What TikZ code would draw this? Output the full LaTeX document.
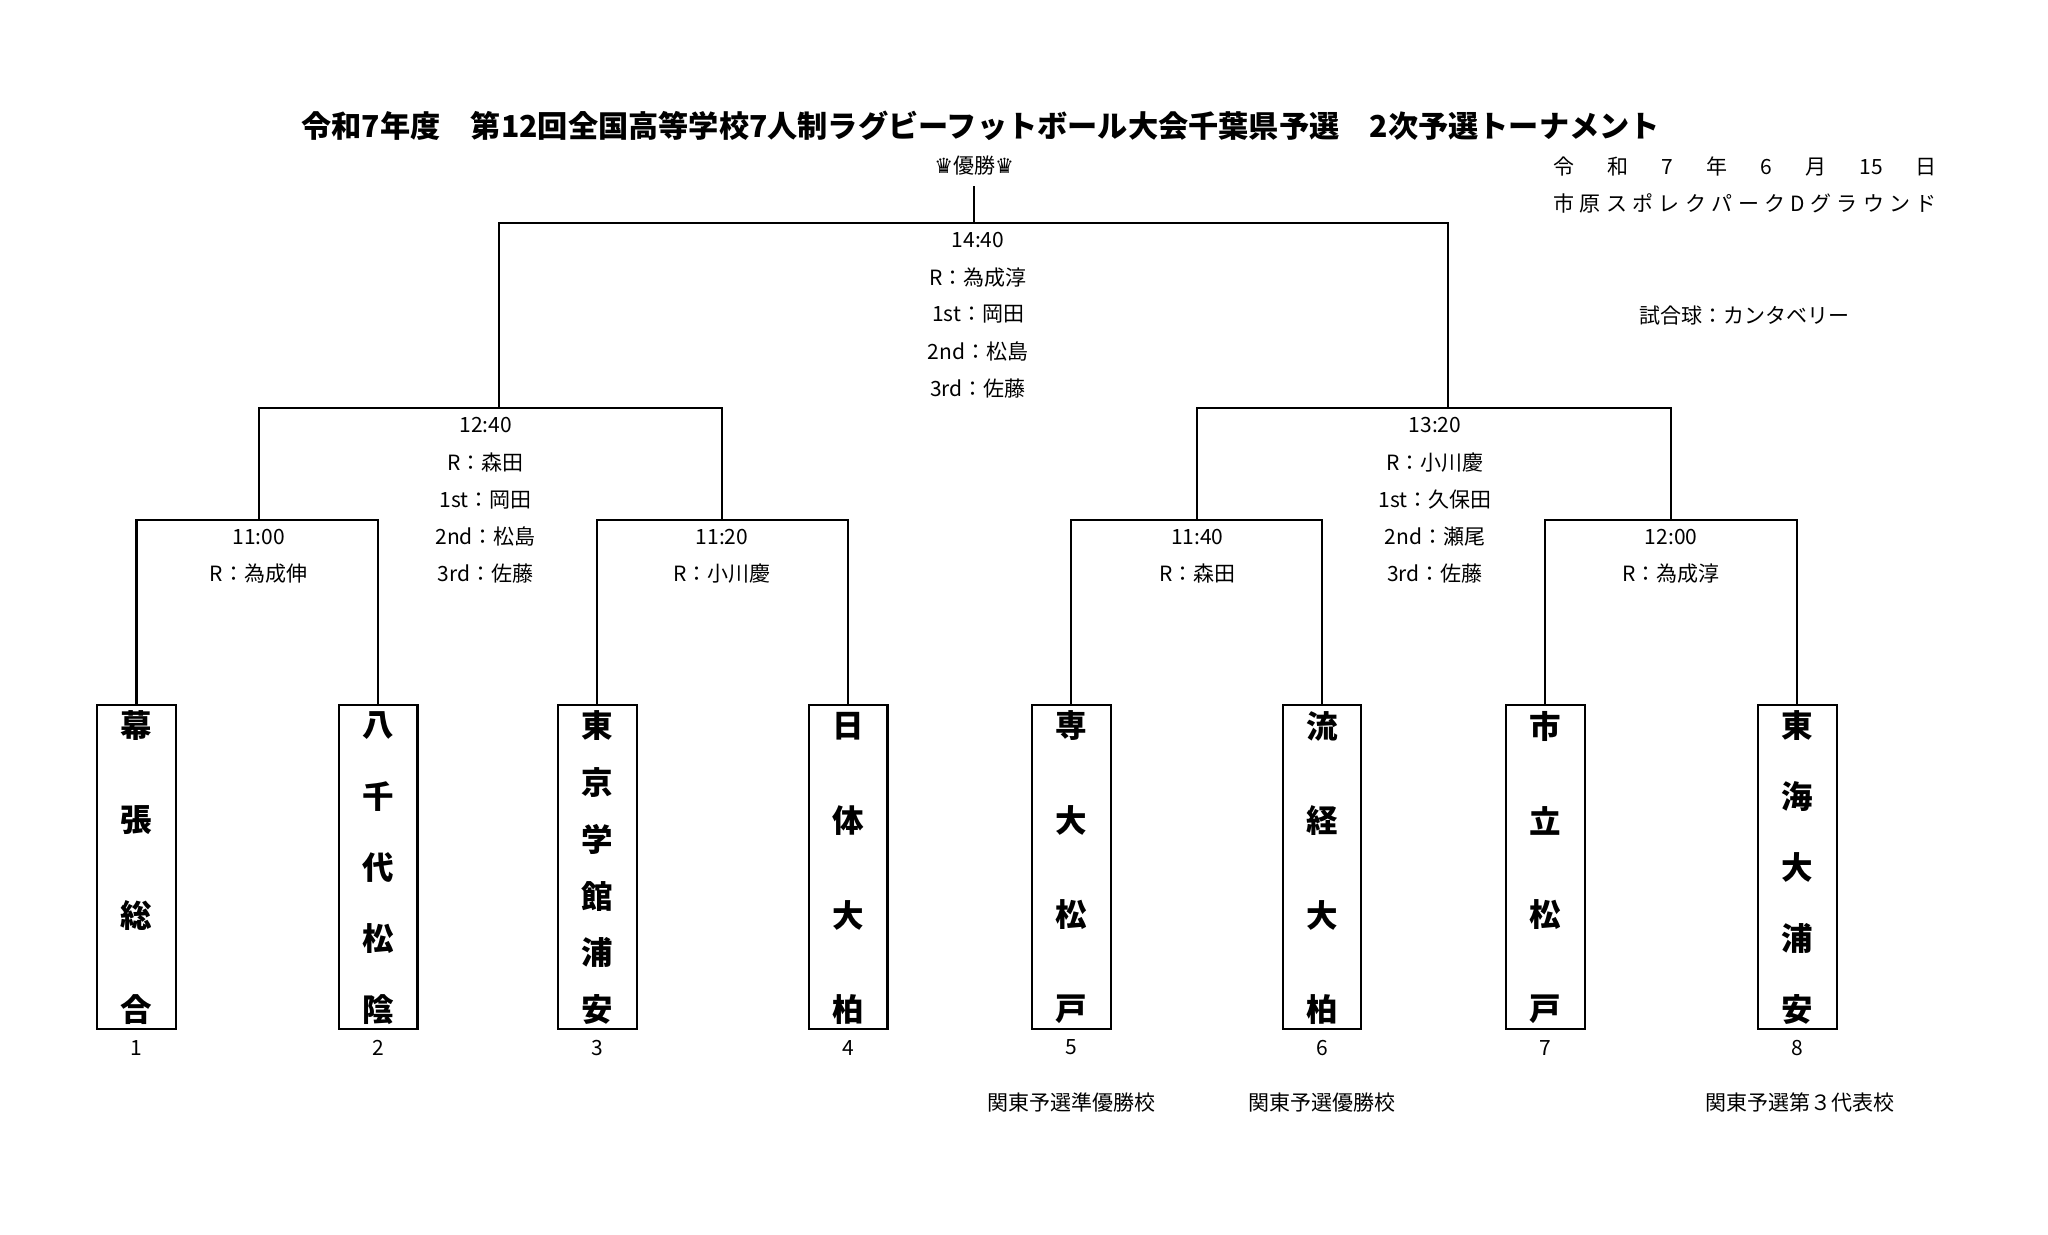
\documentclass[tikz,border=0pt]{standalone}
\usepackage{fontspec}
\setmainfont{Noto Sans CJK JP}
\newfontfamily\symfont{DejaVu Sans}
\usetikzlibrary{positioning}

\tikzset{
  info/.style={font=\fontsize{8}{9}\selectfont, inner sep=0pt},
  teambox/.style={draw, thick, minimum width=30pt, minimum height=123.5pt, inner sep=0pt},
  teamchar/.style={font=\bfseries\fontsize{12}{12}\selectfont, inner sep=0pt},
  bracket/.style={thick}
}

\begin{document}
\begin{tikzpicture}[x=0.5pt,y=-0.5pt]
  \useasboundingbox (0,0) rectangle (1560,940);

  % title and header
  \node[font=\bfseries\fontsize{11.5}{12}\selectfont, inner sep=0pt] (title) at (747,96) {令和7年度\hspace{1em}第12回全国高等学校7人制ラグビーフットボール大会千葉県予選\hspace{1em}2次予選トーナメント};
  \node[info] (champ) at (742,126) {{\symfont ♛}優勝{\symfont ♛}};
  \node[info, text width=146pt, anchor=west] (date) at (1183,127) {令\hfill 和\hfill 7\hfill 年\hfill 6\hfill 月\hfill 15\hfill 日};
  \node[info, text width=146pt, anchor=west] (ground) at (1183,155) {市\hfill 原\hfill ス\hfill ポ\hfill レ\hfill ク\hfill パ\hfill ー\hfill ク\hfill D\hfill グ\hfill ラ\hfill ウ\hfill ン\hfill ド};
  \node[info] (ball) at (1329,240) {試合球：カンタベリー};

  % teams
  \foreach \n/\x/\names/\k in {1/104/{幕,張,総,合}/4, 2/288/{八,千,代,松,陰}/5,
      3/455/{東,京,学,館,浦,安}/6, 4/646/{日,体,大,柏}/4,
      5/816/{専,大,松,戸}/4, 6/1007/{流,経,大,柏}/4,
      7/1177/{市,立,松,戸}/4, 8/1369/{東,海,大,浦,安}/5} {
    \node[teambox] (t\n) at (\x,660.5) {};
    \foreach \c [count=\i from 0] in \names
      \node[teamchar] at (\x,{553+\i*216/(\k-1)}) {\c};
    \node[info] (num\n) at (\x,798) {\n};
  }
  \node[info] (note5) at (816,840) {関東予選準優勝校};
  \node[info] (note6) at (1007,840) {関東予選優勝校};
  \node[info] (note8) at (1371,840) {関東予選第３代表校};

  % quarter finals
  \foreach \a/\b/\m/\mx/\t/\r in {1/2/q1/197/11:00/為成伸, 3/4/q2/550/11:20/小川慶,
      5/6/q3/912/11:40/森田, 7/8/q4/1273/12:00/為成淳} {
    \coordinate (\m) at (\mx,396);
    \draw[bracket] (t\a.north) |- (\m) -| (t\b.north);
    \node[info] at (\mx,409) {\t};
    \node[info] at (\mx,437) {R：\r};
  }

  % semi finals
  \coordinate (s1) at (370,311);
  \coordinate (s2) at (1093,311);
  \draw[bracket] (q1) -- (197,311) -- (550,311) -- (q2);
  \draw[bracket] (q3) -- (912,311) -- (1273,311) -- (q4);
  \foreach \t [count=\i from 0] in {12:40, R：森田, 1st：岡田, 2nd：松島, 3rd：佐藤}
    \node[info] at (370,{324+\i*28.3}) {\t};
  \foreach \t [count=\i from 0] in {13:20, R：小川慶, 1st：久保田, 2nd：瀬尾, 3rd：佐藤}
    \node[info] at (1093,{324+\i*28.3}) {\t};

  % final
  \coordinate (f) at (742,170);
  \draw[bracket] (380,311) |- (f) -| (1103,311);
  \draw[bracket] (f) -- (742,142);
  \foreach \t [count=\i from 0] in {14:40, R：為成淳, 1st：岡田, 2nd：松島, 3rd：佐藤}
    \node[info] at (745,{183+\i*28.3}) {\t};
\end{tikzpicture}
\end{document}
